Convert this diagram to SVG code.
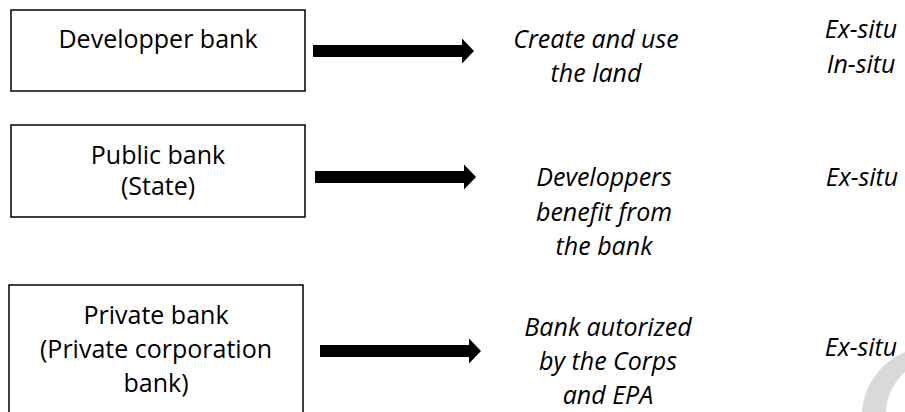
<svg xmlns="http://www.w3.org/2000/svg" xmlns:xlink="http://www.w3.org/1999/xlink" width="905" height="412" viewBox="0 0 905 412">
  <style>
    .box { fill: #ffffff; stroke: #000000; stroke-width: 1.5; }
    .lbl { font-family: "Open Sans", "Liberation Sans", sans-serif; font-size: 25px; fill: #000000; text-anchor: middle; }
    .it { font-family: "Open Sans", "Liberation Sans", sans-serif; font-size: 25px; font-style: italic; fill: #000000; text-anchor: middle; }
    .arrow { fill: #000000; }
  </style>
  <defs>
    <path id="arr" d="M0,-6 L149,-6 L149,-12.5 L161,0 L149,12.5 L149,6 L0,6 Z"/>
  </defs>
  <rect width="905" height="412" fill="#ffffff"/>
  <path d="M905,352 A70,70 0 0 0 862,412 L886,412 A58,58 0 0 1 905,372 Z" fill="#d9d9d9"/>

  <g id="node-developer-bank">
    <rect class="box" x="11" y="10" width="294" height="81"/>
    <text class="lbl" x="158" y="48">Developper bank</text>
  </g>
  <g id="node-public-bank">
    <rect class="box" x="11" y="125" width="294" height="92"/>
    <text class="lbl" x="158" y="164">Public bank</text>
    <text class="lbl" x="158" y="195">(State)</text>
  </g>
  <g id="node-private-bank">
    <rect class="box" x="9" y="285" width="294" height="140"/>
    <text class="lbl" x="156" y="324">Private bank</text>
    <text class="lbl" x="156" y="358">(Private corporation</text>
    <text class="lbl" x="156" y="392">bank)</text>
  </g>

  <g id="connectors">
    <use href="#arr" xlink:href="#arr" class="arrow" transform="translate(313,51)"/>
    <use href="#arr" xlink:href="#arr" class="arrow" transform="translate(315,177)"/>
    <use href="#arr" xlink:href="#arr" class="arrow" transform="translate(320,351)"/>
  </g>

  <g id="node-create">
    <text class="it" x="596" y="48">Create and use</text>
    <text class="it" x="596" y="82">the land</text>
  </g>
  <g id="node-developers-benefit">
    <text class="it" x="604" y="186">Developpers</text>
    <text class="it" x="604" y="221">benefit from</text>
    <text class="it" x="604" y="255">the bank</text>
  </g>
  <g id="node-bank-autorized">
    <text class="it" x="608" y="336">Bank autorized</text>
    <text class="it" x="608" y="370">by the Corps</text>
    <text class="it" x="608" y="404">and EPA</text>
  </g>

  <g id="node-situ-1">
    <text class="it" x="861" y="38">Ex-situ</text>
    <text class="it" x="861" y="73">In-situ</text>
  </g>
  <g id="node-situ-2">
    <text class="it" x="862" y="186">Ex-situ</text>
  </g>
  <g id="node-situ-3">
    <text class="it" x="861" y="356">Ex-situ</text>
  </g>
</svg>
